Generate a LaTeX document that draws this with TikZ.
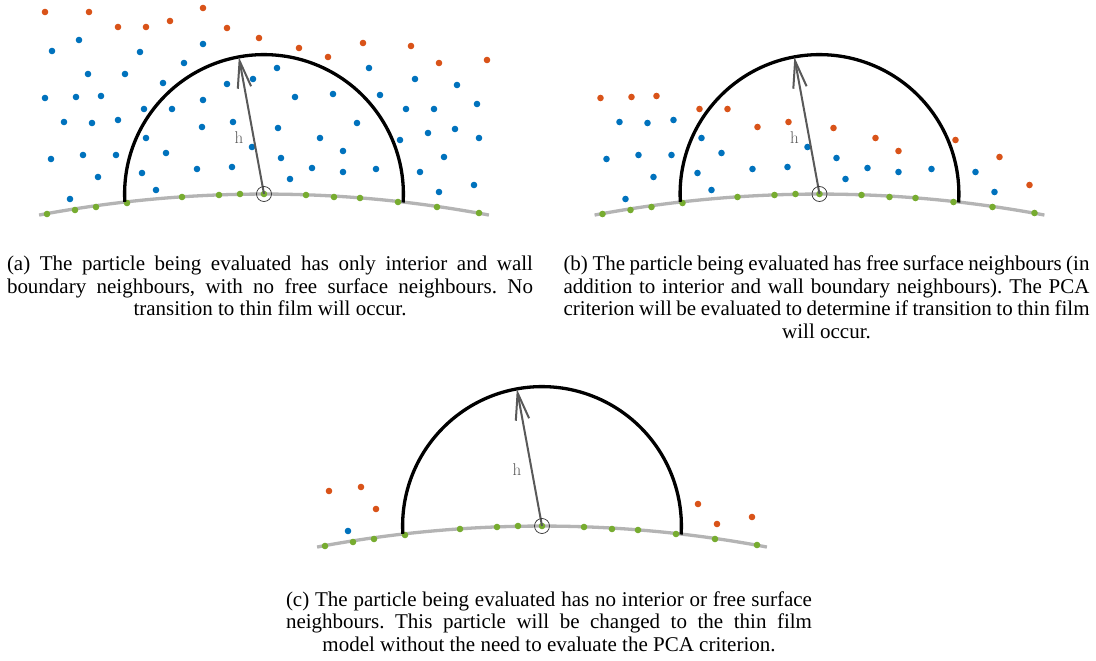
\documentclass[tikz,border=0pt]{standalone}
\usepackage{fontspec}
\newfontfamily\capfont{Liberation Serif}
\usetikzlibrary{arrows.meta}
\definecolor{org}{HTML}{D95319}
\definecolor{blu}{HTML}{0072BD}
\definecolor{grn}{HTML}{77AC30}
\definecolor{wallgray}{HTML}{B4B4B4}
\definecolor{arrgray}{HTML}{595959}
\tikzset{
  wall/.style={draw=wallgray, line width=3.3pt},
  hemi/.style={draw=black, line width=3.3pt},
  hvec/.style={draw=arrgray, line width=2pt, -{Straight Barb[length=27pt,width=13.5pt]}},
  ring/.style={circle, draw=black!80, line width=0.7pt, minimum size=15pt, inner sep=0pt},
  hlab/.style={text=arrgray, font=\fontsize{17}{20}\selectfont, anchor=base, inner sep=0pt},
  capline/.style={font=\capfont\fontsize{21}{22.5}\selectfont\frenchspacing, anchor=base, inner sep=0pt},
}
\newcommand\panelbase[1]{%
  \coordinate (#1P) at (264,194);
  \coordinate (#1W) at (264,1410);
  \draw[wall] (#1W) ++(100.66:1216pt) arc[start angle=100.66,end angle=79.34,radius=1216pt];
  \foreach \x/\y in {47/214,75/210,96/207,127/203,182/197,219/195,240/194,264/194,306/195,334/197,360/198,398/202,437/207,479/213}
    \fill[grn] (\x,\y) circle[radius=3.3pt];
}
\newcommand\paneltop[1]{%
  \draw[hemi] (#1P) ++(183.2:139.4pt) arc[start angle=183.2,end angle=-3.5,radius=139.4pt];
  \path (#1P) ++(100.4:139.4pt) coordinate (#1T);
  \draw[hvec] (#1P) -- (#1T);
  \node[ring] (#1R) at (#1P) {};
  \node[hlab] (#1h) at (239,143.3) {h};
}
\begin{document}
\begin{tikzpicture}[x=1pt,y=-1pt]
\useasboundingbox[fill=white] (0,0) rectangle (1096,661);
% panel (a)
\begin{scope}
  \panelbase{a}
  \foreach \x/\y in {45/12,89/12,118/27,146/27,170/21,203/8,227/28,259/38,299/48,328/57,363/43,411/46,439/63,487/60}
    \fill[org] (\x,\y) circle[radius=3.3pt];
  \foreach \x/\y in {79/40,52/51,140/52,203/44,184/63,88/74,125/74,163/83,227/84,253/79,277/68,45/98,76/97,101/96,144/109,172/109,203/100,64/122,92/123,118/120,233/122,202/127,278/128,146/138,166/153,252/147,51/159,83/155,116/155,281/158,142/173,98/177,197/169,232/167,156/190,70/199,369/68,415/79,457/85,295/97,333/94,380/95,406/109,434/109,477/104,320/138,357/123,400/140,428/133,455/129,479/138,343/151,444/157,312/168,343/172,376/169,420/172,290/179,439/192,474/185}
    \fill[blu] (\x,\y) circle[radius=3.3pt];
  \paneltop{a}
\end{scope}
% panel (b)
\begin{scope}[shift={(555.5,0)}]
  \panelbase{b}
  \foreach \x/\y in {45/98,76/97,101/96,144/109,172/109,202/127,233/122,278/128,320/138,343/151,400/140,444/157,474/185}
    \fill[org] (\x,\y) circle[radius=3.3pt];
  \foreach \x/\y in {64/122,92/123,118/120,146/138,51/159,83/155,116/155,166/153,98/177,142/173,197/169,232/167,252/147,156/190,70/199,281/158,312/168,290/179,343/172,376/169,420/172,439/192}
    \fill[blu] (\x,\y) circle[radius=3.3pt];
  \paneltop{b}
\end{scope}
% panel (c)
\begin{scope}[shift={(278,332)}]
  \panelbase{c}
  \foreach \x/\y in {51/159,83/155,98/177,420/172,439/192,474/185}
    \fill[org] (\x,\y) circle[radius=3.3pt];
  \foreach \x/\y in {70/199}
    \fill[blu] (\x,\y) circle[radius=3.3pt];
  \paneltop{c}
\end{scope}
% captions
\node[capline] (ca1) at (270,270.5) {\makebox[526pt][s]{(a) The particle being evaluated has only interior and wall}};
\node[capline] (ca2) at (270,293) {\makebox[526pt][s]{boundary neighbours, with no free surface neighbours. No}};
\node[capline] (ca3) at (270,315.5) {transition to thin film will occur.};
\node[capline] (cb1) at (826.5,270.5) {\makebox[526pt][s]{(b) The particle being evaluated has free surface neighbours (in}};
\node[capline] (cb2) at (826.5,293) {\makebox[526pt][s]{addition to interior and wall boundary neighbours). The PCA}};
\node[capline] (cb3) at (826.5,315.5) {\makebox[526pt][s]{criterion will be evaluated to determine if transition to thin film}};
\node[capline] (cb4) at (826.5,338) {will occur.};
\node[capline] (cc1) at (549,606) {\makebox[526pt][s]{(c) The particle being evaluated has no interior or free surface}};
\node[capline] (cc2) at (549,628.5) {\makebox[526pt][s]{neighbours. This particle will be changed to the thin film}};
\node[capline] (cc3) at (549,651) {model without the need to evaluate the PCA criterion.};
\end{tikzpicture}
\end{document}
